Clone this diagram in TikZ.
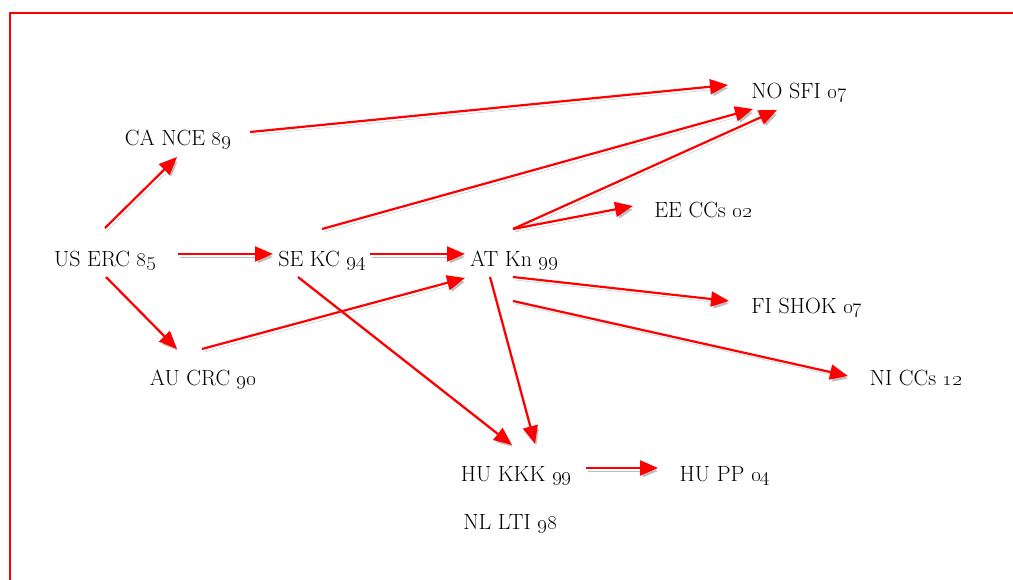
\documentclass[tikz,border=0pt]{standalone}
\usetikzlibrary{arrows.meta}

\tikzset{
  lab/.style={font=\fontsize{22}{26}\selectfont, inner sep=0pt, text height=0.7em, text depth=0pt},
  arr/.style={red, line width=2.2pt, -{Triangle[length=18pt,width=15pt]},
    preaction={draw=black!25, transform canvas={xshift=2pt,yshift=-3pt}}}
}
\newcommand{\yr}[1]{\oldstylenums{#1}}

\begin{document}
\begin{tikzpicture}[x=1pt,y=-1pt]
\useasboundingbox (0,0) rectangle (1013,580);
\draw[red, line width=2pt] (10,580) -- (10,13) -- (1013,13);

\node[lab] (us) at (105,263) {US ERC \yr{85}};
\node[lab] (ca) at (178,142) {CA NCE \yr{89}};
\node[lab] (au) at (203,382) {AU CRC \yr{90}};
\node[lab] (se) at (322,263) {SE KC \yr{94}};
\node[lab] (at) at (514,263) {AT Kn \yr{99}};
\node[lab] (no) at (799,95) {NO SFI \yr{07}};
\node[lab] (ee) at (703,214) {EE CCs \yr{02}};
\node[lab] (fi) at (807,310) {FI SHOK \yr{07}};
\node[lab] (ni) at (916,382) {NI CCs \yr{12}};
\node[lab] (hukkk) at (516,478) {HU KKK \yr{99}};
\node[lab] (hupp) at (725,478) {HU PP \yr{04}};
\node[lab] (nl) at (510,526) {NL LTI \yr{98}};

\draw[arr] ([shift={(0,-35)}]us.center) -- ([shift={(-1,15)}]ca.center);
\draw[arr] ([shift={(73,-9)}]us.center) -- ([shift={(-49,-9)}]se.center);
\draw[arr] ([shift={(1,14)}]us.center) -- ([shift={(-26,-33)}]au.center);
\draw[arr] ([shift={(-1,-33)}]au.center) -- ([shift={(-49,15)}]at.center);
\draw[arr] ([shift={(72,-10)}]ca.center) -- ([shift={(-71,-10)}]no.center);
\draw[arr] ([shift={(0,-34)}]se.center) -- ([shift={(-46,14)}]no.center);
\draw[arr] ([shift={(48,-9)}]se.center) -- ([shift={(-49,-9)}]at.center);
\draw[arr] ([shift={(-24,14)}]se.center) -- ([shift={(-4,-33)}]hukkk.center);
\draw[arr] ([shift={(-1,-34)}]at.center) -- ([shift={(-22,15)}]no.center);
\draw[arr] ([shift={(-1,-34)}]at.center) -- ([shift={(-70,-8)}]ee.center);
\draw[arr] ([shift={(-1,14)}]at.center) -- ([shift={(-78,-9)}]fi.center);
\draw[arr] ([shift={(-1,38)}]at.center) -- ([shift={(-68,-6)}]ni.center);
\draw[arr] ([shift={(-24,14)}]at.center) -- ([shift={(19,-34)}]hukkk.center);
\draw[arr] ([shift={(70,-10)}]hukkk.center) -- ([shift={(-67,-10)}]hupp.center);
\end{tikzpicture}
\end{document}
